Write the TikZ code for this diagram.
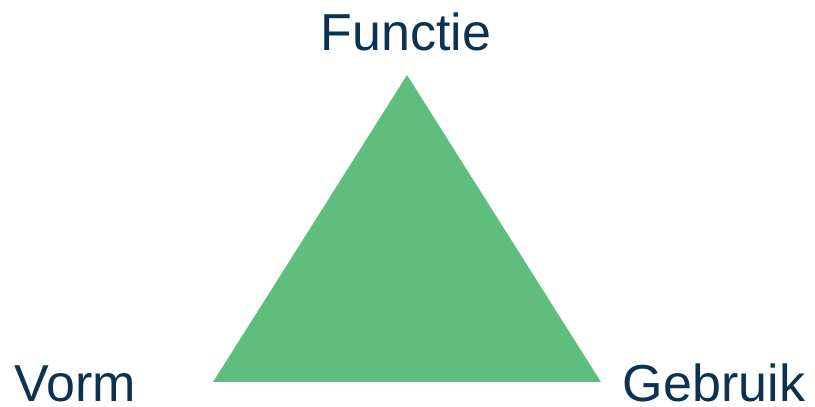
\documentclass[tikz,border=0pt]{standalone}
\usepackage{fontspec}
\setmainfont{Liberation Sans}
\definecolor{labelblue}{RGB}{12,50,82}
\definecolor{trigreen}{RGB}{95,190,125}
\begin{document}
\begin{tikzpicture}[x=1pt,y=1pt,
  lbl/.style={inner sep=0pt, anchor=base, text=labelblue, font=\fontsize{52}{60}\selectfont}]
\useasboundingbox (0,0) rectangle (815,407);
\coordinate (top) at (407,332);
\coordinate (bl) at (213,25);
\coordinate (br) at (601,25);
\fill[trigreen] (top) -- (bl) -- (br) -- cycle;
\node[lbl] (functie) at (406,356) {Functie};
\node[lbl] (vorm) at (75,5) {Vorm};
\node[lbl] (gebruik) at (714,5) {Gebruik};
\end{tikzpicture}
\end{document}
